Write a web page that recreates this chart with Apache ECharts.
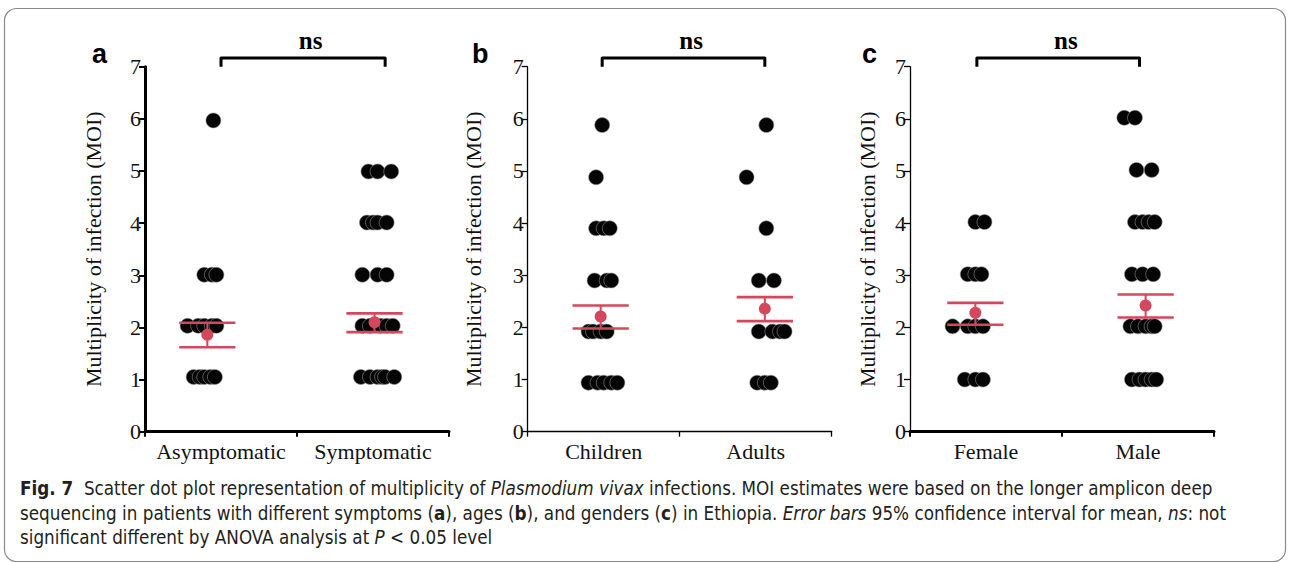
<!DOCTYPE html>
<html><head><meta charset="utf-8">
<script src="https://cdn.jsdelivr.net/npm/echarts@6/dist/echarts.min.js"></script>
<style>html,body{margin:0;padding:0;background:#fff}#c{width:1290px;height:563px}</style>
</head><body><div id="c"></div>
<script>
// ---------------- data ----------------
const catsA = ['Asymptomatic', 'Symptomatic'];
const catsB = ['Children', 'Adults'];
const catsC = ['Female', 'Male'];

// panel a – individual MOI values (y) and their jitter position on the group axis (x)
const asymY = [5.97, 3.01, 3.01, 3.01, 2.03, 2.03, 2.03, 2.03, 2.03, 1.05, 1.05, 1.05, 1.05, 1.05];
const asymX = [0.45, 0.39, 0.44, 0.47, 0.28, 0.35, 0.39, 0.44, 0.47, 0.32, 0.36, 0.39, 0.43, 0.46];
const sympY = [4.99, 4.99, 4.99, 4.01, 4.01, 4.01, 4.01, 3.01, 3.01, 3.01, 2.03, 2.03, 2.03, 2.03, 2.03, 1.05, 1.05, 1.05, 1.05, 1.05, 1.05];
const sympX = [1.47, 1.53, 1.62, 1.46, 1.50, 1.53, 1.59, 1.43, 1.53, 1.59, 1.43, 1.48, 1.55, 1.59, 1.63, 1.42, 1.48, 1.53, 1.56, 1.58, 1.64];

// panel b
const childY = [5.88, 4.88, 3.9, 3.9, 3.9, 2.9, 2.9, 2.9, 1.92, 1.92, 1.92, 1.92, 0.94, 0.94, 0.94, 0.94, 0.94];
const childX = [0.49, 0.45, 0.45, 0.50, 0.54, 0.44, 0.52, 0.55, 0.40, 0.43, 0.48, 0.52, 0.40, 0.46, 0.50, 0.55, 0.59];
const adultY = [5.88, 4.88, 3.9, 2.9, 2.9, 1.92, 1.92, 1.92, 1.92, 0.94, 0.94, 0.94];
const adultX = [1.57, 1.44, 1.57, 1.52, 1.62, 1.52, 1.61, 1.66, 1.69, 1.51, 1.56, 1.60];

// panel c
const femaleY = [4.02, 4.02, 3.02, 3.02, 3.02, 2.02, 2.02, 2.02, 2.02, 1.0, 1.0, 1.0];
const femaleX = [0.43, 0.49, 0.38, 0.43, 0.47, 0.28, 0.38, 0.43, 0.48, 0.36, 0.43, 0.48];
const maleY = [6.02, 6.02, 5.02, 5.02, 4.02, 4.02, 4.02, 4.02, 3.02, 3.02, 3.02, 2.02, 2.02, 2.02, 2.02, 2.02, 1.0, 1.0, 1.0, 1.0, 1.0];
const maleX = [1.41, 1.48, 1.49, 1.59, 1.48, 1.53, 1.57, 1.61, 1.46, 1.53, 1.60, 1.45, 1.50, 1.55, 1.59, 1.61, 1.46, 1.51, 1.55, 1.59, 1.62];

// means and 95% CI per group (panel a, b, c)
const meanX  = [[0.41, 1.51], [0.48, 1.56], [0.43, 1.55]];
const meanY  = [[1.86, 2.10], [2.21, 2.36], [2.28, 2.42]];
const ciLow  = [[1.62, 1.91], [1.98, 2.12], [2.05, 2.19]];
const ciHigh = [[2.09, 2.27], [2.42, 2.58], [2.47, 2.63]];

// significance brackets (x from, x to) and label
const bracketX = [[0.50, 1.58], [0.49, 1.56], [0.44, 1.51]];
const sigLabel = ['ns', 'ns', 'ns'];
const panelLabels = ['a', 'b', 'c'];
const yAxisName = 'Multiplicity of infection (MOI)';

// ---------------- layout / style ----------------
const RED = '#d4475c';
const gridLeft = [145, 527.7, 910];
const xLineW = [3, 1.3, 3];
const yLineW = [3, 1.3, 1.3];
const nameGaps = [41, 43, 32];
const labelPos = [[92, 53.5], [472, 53.5], [862, 53.5]];
const serif = 'Liberation Serif';

const cats = [catsA, catsB, catsC];
const groups = [
  [[asymX, asymY], [sympX, sympY]],
  [[childX, childY], [adultX, adultY]],
  [[femaleX, femaleY], [maleX, maleY]]
];

const grid = [], xAxis = [], yAxis = [], series = [], graphic = [];

for (let p = 0; p < 3; p++) {
  grid.push({ left: gridLeft[p], top: 66.7, width: 304, height: 365, containLabel: false });
  xAxis.push({
    type: 'category', gridIndex: p, data: cats[p], boundaryGap: true,
    axisLine: { lineStyle: { color: '#000', width: xLineW[p] } },
    axisTick: { show: true, length: 5, interval: 0, lineStyle: { color: '#000', width: Math.min(xLineW[p], 2) } },
    axisLabel: { color: '#111', fontFamily: serif, fontSize: 22, margin: 9, interval: 0 },
    splitLine: { show: false }
  });
  xAxis.push({ type: 'value', gridIndex: p, min: 0, max: 2, show: false });
  yAxis.push({
    type: 'value', gridIndex: p, min: 0, max: 7, interval: 1,
    name: yAxisName, nameLocation: 'middle', nameGap: nameGaps[p],
    nameTextStyle: { color: '#111', fontFamily: serif, fontSize: 22 },
    axisLine: { show: true, lineStyle: { color: '#000', width: yLineW[p] } },
    axisTick: { show: true, length: 6, lineStyle: { color: '#000', width: Math.min(yLineW[p], 2) } },
    axisLabel: { color: '#111', fontFamily: serif, fontSize: 22, margin: 4 },
    splitLine: { show: false }
  });
  const xi = p * 2 + 1;
  groups[p].forEach(([xs, ys]) => {
    series.push({
      type: 'scatter', xAxisIndex: xi, yAxisIndex: p, symbolSize: 15, z: 2,
      itemStyle: { color: '#050505', borderColor: 'rgba(150,150,150,0.8)', borderWidth: 0.7, opacity: 1 },
      data: xs.map((x, i) => [x, ys[i]]), silent: true
    });
  });
  // error bars
  series.push({
    type: 'custom', xAxisIndex: xi, yAxisIndex: p, z: 3, silent: true,
    data: meanX[p].map((x, i) => [x, meanY[p][i], ciLow[p][i], ciHigh[p][i]]),
    renderItem: function (params, api) {
      const x = api.value(0);
      const lo = api.coord([x, api.value(2)]);
      const hi = api.coord([x, api.value(3)]);
      const hw = api.size([0.185, 0])[0];
      const st = { stroke: RED, lineWidth: 2.6 };
      return { type: 'group', children: [
        { type: 'line', shape: { x1: lo[0] - hw, y1: lo[1], x2: lo[0] + hw, y2: lo[1] }, style: st },
        { type: 'line', shape: { x1: hi[0] - hw, y1: hi[1], x2: hi[0] + hw, y2: hi[1] }, style: st },
        { type: 'line', shape: { x1: lo[0], y1: lo[1], x2: hi[0], y2: hi[1] }, style: { stroke: RED, lineWidth: 2 } }
      ] };
    }
  });
  // mean points
  series.push({
    type: 'scatter', xAxisIndex: xi, yAxisIndex: p, symbolSize: 12, z: 4, silent: true,
    itemStyle: { color: RED, opacity: 1 },
    data: meanX[p].map((x, i) => [x, meanY[p][i]])
  });
  // significance bracket
  series.push({
    type: 'custom', xAxisIndex: xi, yAxisIndex: p, z: 5, silent: true, clip: false,
    data: [[bracketX[p][0], bracketX[p][1]]],
    renderItem: function (params, api) {
      const a = api.coord([api.value(0), 7.167]);
      const b = api.coord([api.value(1), 7.167]);
      const aEnd = api.coord([api.value(0), 7.0]);
      const t = api.coord([(api.value(0) + api.value(1)) / 2 + 0.05, 7.51]);
      return { type: 'group', children: [
        { type: 'polyline', shape: { points: [[a[0], aEnd[1]], [a[0], a[1]], [b[0], b[1]], [b[0], aEnd[1]]] },
          style: { stroke: '#000', lineWidth: 3, fill: null, lineJoin: 'round', lineCap: 'butt' } },
        { type: 'text', x: t[0], y: t[1],
          style: { text: sigLabel[p], fill: '#000', font: 'bold 25px "Liberation Serif"', align: 'center', verticalAlign: 'middle' } }
      ] };
    }
  });
  graphic.push({ type: 'text', x: labelPos[p][0], y: labelPos[p][1], silent: true,
    style: { text: panelLabels[p], fill: '#000', font: 'bold 27px "Liberation Sans"', align: 'left', verticalAlign: 'middle' } });
}

// border
graphic.push({ type: 'rect', silent: true, z: -1,
  shape: { x: 4.5, y: 8.5, width: 1281, height: 553, r: 12 },
  style: { fill: null, stroke: '#8a8a8a', lineWidth: 1.2 } });

// caption
const capFont = 'DejaVu Sans Condensed';
const capSize = 18.7;
const capColor = '#231f20';
const rich = {
  b: { fontFamily: capFont, fontSize: capSize, fontWeight: 'bold', fill: capColor, color: capColor },
  i: { fontFamily: capFont, fontSize: capSize, fontStyle: 'italic', fill: capColor, color: capColor },
  n: { fontFamily: capFont, fontSize: capSize, fill: capColor, color: capColor }
};
const captionLines = [
  '{b|Fig. 7}{n|  Scatter dot plot representation of multiplicity of }{i|Plasmodium vivax}{n| infections. MOI estimates were based on the longer amplicon deep}',
  '{n|sequencing in patients with different symptoms (}{b|a}{n|), ages (}{b|b}{n|), and genders (}{b|c}{n|) in Ethiopia. }{i|Error bars}{n| 95% confidence interval for mean, }{i|ns}{n|: not}',
  '{n|significant different by ANOVA analysis at }{i|P}{n| < 0.05 level}'
];
const captionY = [488.5, 513, 537];
captionLines.forEach((t, i) => {
  graphic.push({ type: 'text', x: 20, y: captionY[i], silent: true,
    style: { text: t, rich: rich, fontFamily: capFont, fontSize: capSize, fill: capColor, align: 'left', verticalAlign: 'middle' } });
});

const chart = echarts.init(document.getElementById('c'), null, { renderer: 'svg' });
chart.setOption({ animation: false, backgroundColor: '#fff', grid, xAxis, yAxis, series, graphic });
</script>
</body></html>
